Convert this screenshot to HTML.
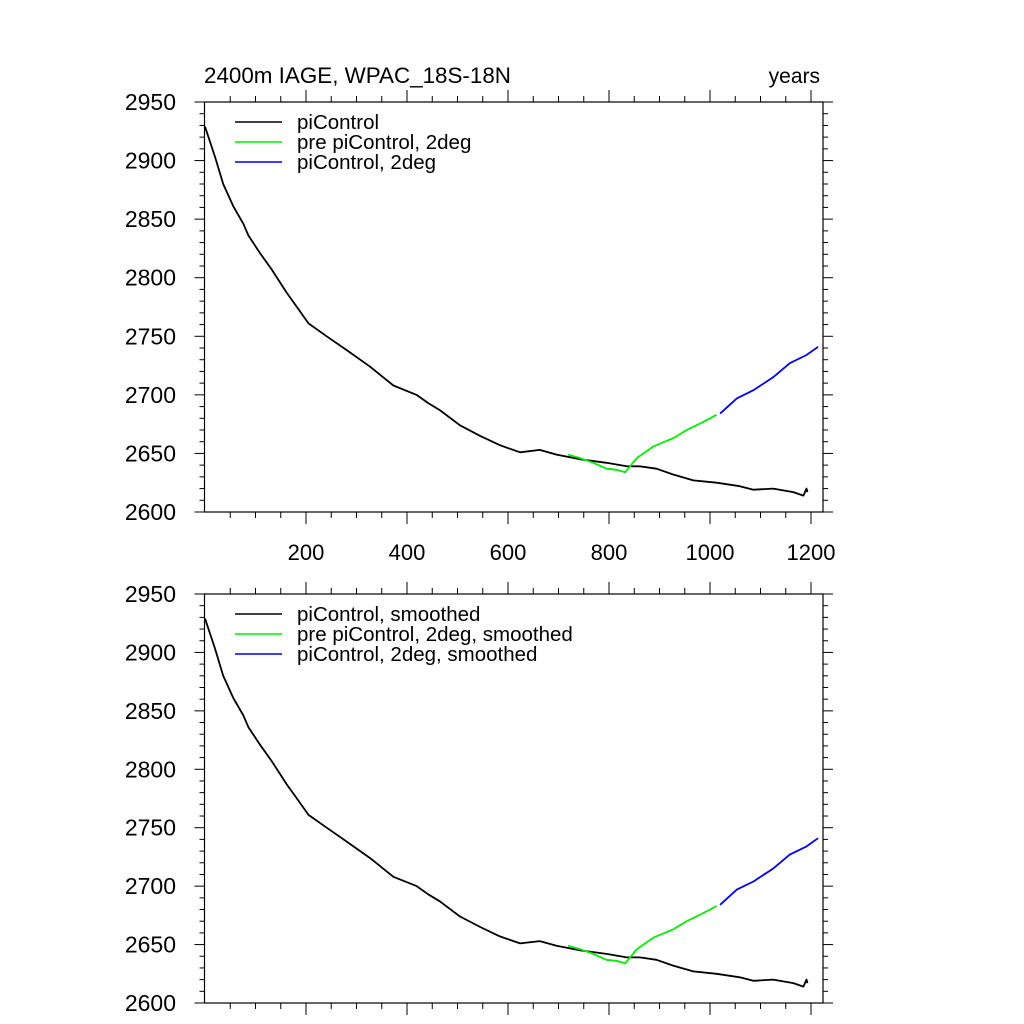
<!DOCTYPE html>
<html><head><meta charset="utf-8">
<style>
body{margin:0;background:#fff;}
svg{display:block;font-family:"Liberation Sans",sans-serif;}
</style></head>
<body>
<svg id="chart" width="1024" height="1024" viewBox="0 0 1024 1024">
<text x="204" y="83" font-size="22.4">2400m IAGE, WPAC_18S-18N</text>
<text x="820" y="83" font-size="21" text-anchor="end">years</text>
</svg>
<script>
const xTicks=[200,400,600,800,1000,1200];
const yTicks=[2600,2650,2700,2750,2800,2850,2900,2950];
const blackYears=[0,20,36,56,76,86,109,132,162,182,205,241,281,327,373,419,442,465,505,545,584,624,663,696,743,795,835,861,894,927,967,1013,1059,1086,1125,1165,1185,1191,1193];
const blackVals=[2929,2903,2880,2861,2846,2836,2821,2807,2787,2775,2761,2750,2738,2724,2708,2700,2693,2687,2674,2665,2657,2651,2653,2649,2645,2642,2639,2639,2637,2632,2627,2625,2622,2619,2620,2617,2614,2620,2617];
const greenYears=[719,743,769,795,815,832,855,888,927,954,987,1013];
const greenVals=[2649,2646,2642,2637,2636,2634,2646,2656,2663,2670,2677,2683];
const blueYears=[1020,1053,1086,1125,1158,1191,1214];
const blueVals=[2684,2697,2704,2715,2727,2734,2741];
const legendTop=["piControl","pre piControl, 2deg","piControl, 2deg"];
const legendBot=["piControl, smoothed","pre piControl, 2deg, smoothed","piControl, 2deg, smoothed"];
const colors=["#000","#00ee00","#0000ee"];

const svg=document.getElementById('chart');
const NS="http://www.w3.org/2000/svg";
const L=204.5,R=823,X0=205,XS=0.505;
const xs=v=>X0+v*XS;
function mk(t,a){const e=document.createElementNS(NS,t);for(const k in a)e.setAttribute(k,a[k]);svg.appendChild(e);return e;}

function panel(top,bot,legend,name,showXLabels){
  const ys=v=>bot-(v-2600)*(bot-top)/350;
  const f=mk('rect',{x:L,y:top,width:R-L,height:bot-top,fill:'none',stroke:'#000','stroke-width':1.2});
  
  
  for(let v=2600;v<=2950;v+=10){
    const major=(v%50===0);const len=major?10:5;
    mk('line',{x1:L-len,x2:L,y1:ys(v),y2:ys(v),stroke:'#000','stroke-width':1});
    mk('line',{x1:R,x2:R+len,y1:ys(v),y2:ys(v),stroke:'#000','stroke-width':1});
  }
  yTicks.forEach(v=>{
    const t=mk('text',{x:176,y:ys(v)+8,'font-size':23,'text-anchor':'end'});
    t.textContent=v;
    
    
  });
  for(let v=50;v<=1200;v+=50){
    const major=(v%200===0);const len=major?12:6;
    mk('line',{x1:xs(v),x2:xs(v),y1:bot,y2:bot+len,stroke:'#000','stroke-width':1});
    mk('line',{x1:xs(v),x2:xs(v),y1:top-len,y2:top,stroke:'#000','stroke-width':1});
  }
  if(showXLabels){
    xTicks.forEach(v=>{
      const t=mk('text',{x:xs(v),y:bot+48,'font-size':22,'text-anchor':'middle'});
      t.textContent=v;
      
      
    });
  }
  const series=[[blackYears,blackVals],[greenYears,greenVals],[blueYears,blueVals]];
  series.forEach((s,i)=>{
    const pts=s[0].map((yr,j)=>xs(yr).toFixed(1)+','+ys(s[1][j]).toFixed(1)).join(' ');
    const p=mk('polyline',{points:pts,fill:'none',stroke:colors[i],'stroke-width':1.8,'stroke-linejoin':'round'});
    
    
  });
  legend.forEach((txt,i)=>{
    const y=top+20+i*20;
    const l=mk('line',{x1:235,x2:282,y1:y,y2:y,stroke:colors[i],'stroke-width':1.5});
    
    
    const t=mk('text',{x:297,y:y+7,'font-size':20.5});
    t.textContent=txt;
    
    
  });
}
panel(102,512,legendTop,'top-panel',true);
panel(594,1003,legendBot,'bottom-panel',false);
</script>
</body></html>
